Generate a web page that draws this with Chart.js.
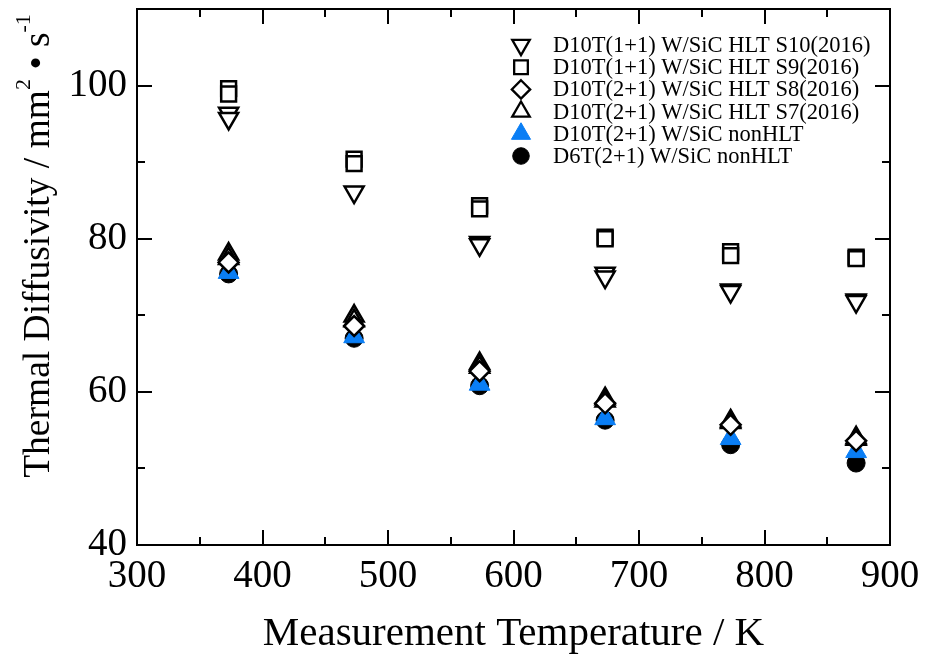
<!DOCTYPE html>
<html><head><meta charset="utf-8">
<script src="https://cdn.jsdelivr.net/npm/chart.js@4/dist/chart.umd.min.js"></script>
<style>html,body{margin:0;padding:0;background:#fff;}#wrap{width:930px;height:661px;}</style>
</head><body><div id="wrap"><canvas id="c" width="930" height="661"></canvas></div>
<script>
// ---- data ----
const temperatures = [373, 473, 573, 673, 773, 873];
const s10 = [[96.4, 95.7], [86.1], [79.5, 79.2], [75.5, 75.0], [73.3, 73.1], [72.0, 71.8]];
const s9  = [[99.6, 98.9], [90.4, 89.8], [84.3, 83.9], [80.2, 80.0], [78.3, 77.8], [77.6, 77.4]];
const s8  = [[76.9], [68.6], [62.7], [58.5], [55.7], [53.6]];
const s7  = [[78.0, 77.4], [69.9, 69.3], [63.7, 63.2], [59.1, 58.8], [56.2, 56.0], [54.0, 53.8]];
const nonHLT10 = [[75.6], [67.2], [61.0], [56.5], [53.9], [52.2]];
const nonHLT6  = [[75.4], [67.0], [60.8], [56.3], [53.1], [50.7]];
const seriesLabels = [
  'D10T(1+1) W/SiC HLT S10(2016)',
  'D10T(1+1) W/SiC HLT S9(2016)',
  'D10T(2+1) W/SiC HLT S8(2016)',
  'D10T(2+1) W/SiC HLT S7(2016)',
  'D10T(2+1) W/SiC nonHLT',
  'D6T(2+1) W/SiC nonHLT'
];
const xTickValues = [300, 400, 500, 600, 700, 800, 900];
const yTickValues = [40, 60, 80, 100];
const xTitle = 'Measurement Temperature / K';
const yTitleMain = 'Thermal Diffusivity / mm';
const yTitleSup1 = '2';
const yTitleMid = ' \u2022 s';
const yTitleSup2 = '-1';

// ---- build ----
const SERIF = '"Liberation Serif", "Times New Roman", serif';
const BLUE = '#0a7ef5';
function pts(vals) {
  const out = [];
  temperatures.forEach((t, i) => vals[i].forEach(v => out.push({x: t, y: v})));
  return out;
}
const hollow = {backgroundColor: '#fff', borderColor: '#000', borderWidth: 2.5};
const datasets = [
  Object.assign({label: seriesLabels[0], data: pts(s10), pointStyle: 'triangle', rotation: 180, pointRadius: 11}, hollow),
  Object.assign({label: seriesLabels[1], data: pts(s9), pointStyle: 'rect', rotation: 0, pointRadius: 10.5}, hollow),
  Object.assign({label: seriesLabels[2], data: pts(s8), pointStyle: 'rectRot', rotation: 0, pointRadius: 10}, hollow),
  Object.assign({label: seriesLabels[3], data: pts(s7), pointStyle: 'triangle', rotation: 0, pointRadius: 11}, hollow),
  {label: seriesLabels[4], data: pts(nonHLT10), pointStyle: 'triangle', rotation: 0, pointRadius: 12,
   backgroundColor: BLUE, borderColor: BLUE, borderWidth: 1},
  {label: seriesLabels[5], data: pts(nonHLT6), pointStyle: 'circle', rotation: 0, pointRadius: 9,
   backgroundColor: '#000', borderColor: '#000', borderWidth: 1}
];
datasets.forEach(d => { d.showLine = false; d.pointHoverRadius = d.pointRadius; });

function drawMarker(ctx, style, rot, r, x, y, fill, stroke, lw) {
  ctx.save();
  ctx.beginPath();
  if (style === 'circle') {
    ctx.arc(x, y, r, 0, Math.PI * 2);
  } else if (style === 'rect') {
    const s = Math.SQRT1_2 * r;
    ctx.rect(x - s, y - s, 2 * s, 2 * s);
  } else if (style === 'rectRot') {
    ctx.moveTo(x, y - r); ctx.lineTo(x + r, y); ctx.lineTo(x, y + r); ctx.lineTo(x - r, y); ctx.closePath();
  } else if (style === 'triangle') {
    let a = rot * Math.PI / 180;
    for (let k = 0; k < 3; k++) {
      const px = x + Math.sin(a) * r, py = y - Math.cos(a) * r;
      if (k === 0) ctx.moveTo(px, py); else ctx.lineTo(px, py);
      a += 2 * Math.PI / 3;
    }
    ctx.closePath();
  }
  ctx.fillStyle = fill; ctx.fill();
  ctx.lineWidth = lw; ctx.strokeStyle = stroke; ctx.lineJoin = 'miter'; ctx.stroke();
  ctx.restore();
}

const framePlugin = {
  id: 'frame',
  afterDraw(chart) {
    const ctx = chart.ctx, a = chart.chartArea;
    const xs = chart.scales.x, ys = chart.scales.y;
    ctx.save();
    ctx.strokeStyle = '#000'; ctx.lineWidth = 2;
    ctx.strokeRect(a.left, a.top, a.right - a.left, a.bottom - a.top);
    ctx.beginPath();
    for (let v = xs.min; v <= xs.max + 1e-9; v += 50) {
      const px = Math.round(xs.getPixelForValue(v));
      const len = (v % 100 === 0) ? 15 : 8;
      ctx.moveTo(px, a.bottom); ctx.lineTo(px, a.bottom - len);
      ctx.moveTo(px, a.top); ctx.lineTo(px, a.top + len);
    }
    for (let v = ys.min; v <= ys.max + 1e-9; v += 10) {
      const py = Math.round(ys.getPixelForValue(v));
      const len = ((v - 40) % 20 === 0) ? 15 : 8;
      ctx.moveTo(a.left, py); ctx.lineTo(a.left + len, py);
      ctx.moveTo(a.right, py); ctx.lineTo(a.right - len, py);
    }
    ctx.stroke();

    // axis titles
    ctx.fillStyle = '#000';
    ctx.textBaseline = 'middle';
    ctx.textAlign = 'center';
    ctx.font = '41px ' + SERIF;
    ctx.fillText(xTitle, (a.left + a.right) / 2, 634);

    // y title with superscripts
    const big = '37.5px ' + SERIF, small = '22px ' + SERIF;
    ctx.textAlign = 'left';
    ctx.font = big; const w1 = ctx.measureText(yTitleMain).width;
    ctx.font = small; const w2 = ctx.measureText(yTitleSup1).width;
    ctx.font = big; const w3 = ctx.measureText(yTitleMid).width;
    ctx.font = small; const w4 = ctx.measureText(yTitleSup2).width;
    const total = w1 + w2 + w3 + w4;
    ctx.translate(36, 246);
    ctx.rotate(-Math.PI / 2);
    let cx = -total / 2;
    ctx.textBaseline = 'alphabetic';
    ctx.font = big; ctx.fillText(yTitleMain, cx, 13); cx += w1;
    ctx.font = small; ctx.fillText(yTitleSup1, cx, -6); cx += w2;
    ctx.font = big; ctx.fillText(yTitleMid, cx, 13); cx += w3;
    ctx.font = small; ctx.fillText(yTitleSup2, cx, -6);
    ctx.restore();

    // legend
    ctx.save();
    ctx.font = '22.5px ' + SERIF;
    ctx.fillStyle = '#000';
    ctx.textBaseline = 'middle';
    ctx.textAlign = 'left';
    chart.data.datasets.forEach((d, i) => {
      const y = 45 + i * 22.2;
      const r = d.pointRadius * 0.92;
      drawMarker(ctx, d.pointStyle, d.rotation, r, 521, y, d.backgroundColor, d.borderColor, d.borderWidth === 1 ? 1 : 2.3);
      ctx.fillText(d.label, 553, y + 1);
    });
    ctx.restore();
  }
};

const tickFont = {family: SERIF, size: 39};
new Chart(document.getElementById('c'), {
  type: 'scatter',
  data: {datasets},
  options: {
    responsive: false, animation: false, devicePixelRatio: 1,
    layout: {autoPadding: false, padding: {left: 0, top: 9, right: 40, bottom: 0}},
    plugins: {legend: {display: false}, tooltip: {enabled: false}},
    scales: {
      x: {
        type: 'linear', min: xTickValues[0], max: xTickValues[xTickValues.length - 1],
        afterFit(s) { s.height = 116; s.paddingLeft = 0; s.paddingRight = 0; },
        grid: {display: false, drawTicks: false}, border: {display: false},
        ticks: {font: tickFont, color: '#000', padding: 8, maxRotation: 0, autoSkip: false,
                stepSize: xTickValues[1] - xTickValues[0], includeBounds: false}
      },
      y: {
        type: 'linear', min: yTickValues[0], max: 110,
        afterFit(s) { s.width = 137; s.paddingTop = 0; s.paddingBottom = 0; },
        grid: {display: false, drawTicks: false}, border: {display: false},
        ticks: {font: tickFont, color: '#000', padding: 10, autoSkip: false,
                stepSize: yTickValues[1] - yTickValues[0], includeBounds: false}
      }
    }
  },
  plugins: [framePlugin]
});
</script></body></html>
